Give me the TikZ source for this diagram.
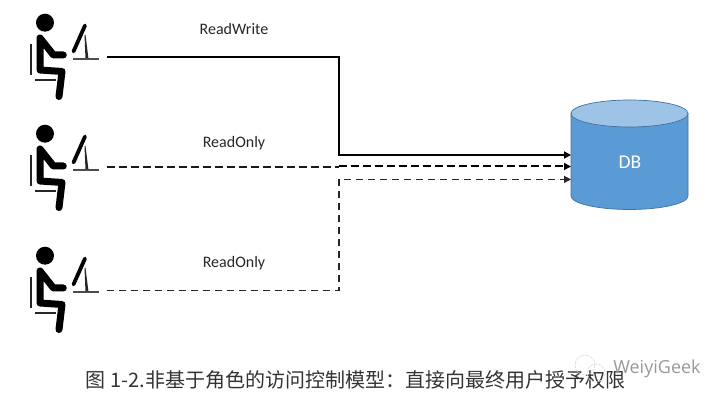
\documentclass[tikz,border=0pt]{standalone}
\usepackage{fontspec}
\setmainfont{Carlito}
\newfontfamily\cjk{Noto Sans CJK SC}
\newfontfamily\wm{Open Sans}
\usetikzlibrary{arrows.meta}
\definecolor{dbside}{HTML}{5B9BD5}
\definecolor{dbtop}{HTML}{9DC3E6}
\definecolor{dbedge}{HTML}{41719C}
\tikzset{
  conn/.style={draw=black,-{Triangle[length=7pt,width=7pt]}},
  label/.style={font=\fontsize{16}{18}\selectfont,text=black!85,inner sep=0pt},
  limb/.style={line width=#1,line cap=round,line join=round,black},
  pics/user/.style={code={
    \fill[black] (45,22.7) circle (9);
    \draw[limb=7pt] (63.3,55) -- (53.5,55) -- (40,38) -- (40,70) -- (62,71.5) -- (59,96.5);
    \draw[limb=1.8pt,line cap=butt,black!85] (30.7,44) -- (30.7,75.5);
    \draw[limb=1.8pt,line cap=butt,black!85] (35,80.3) -- (55.5,80.3);
    \draw[limb=3.8pt] (85,25.5) -- (73.5,51.5);
    \fill[black!85] (84.5,35) -- (85.5,35) -- (88.5,59) -- (85.5,59) -- cycle;
    \draw[limb=1.6pt,line cap=butt,black!70] (72.7,59.3) -- (99.3,59.3);
  }}
}
\begin{document}
\begin{tikzpicture}[x=1pt,y=-1pt]
\useasboundingbox (0,0) rectangle (723,403);
% users
\pic at (0,0) {user};
\pic at (0,111) {user};
\pic at (0,233) {user};
% database
\fill[dbside] (571,113.5) -- (571,196) arc[start angle=180,end angle=360,x radius=58.5,y radius=-13.5] -- (688,113.5) -- cycle;
\draw[dbedge,line width=0.7pt] (571,113.5) -- (571,196) arc[start angle=180,end angle=360,x radius=58.5,y radius=-13.5] -- (688,113.5);
\draw[dbedge,fill=dbtop,line width=0.7pt] (629.5,113.5) ellipse[x radius=58.5,y radius=13.5];
\node[font=\fontsize{19.5}{21}\selectfont,text=white,inner sep=0pt] (db) at (630,162) {DB};
% connector ends
\coordinate (u1) at (107,57);
\coordinate (u2) at (107,167.3);
\coordinate (u3) at (107,290.4);
\coordinate (j1) at (339,155);
\coordinate (j2a) at (339,167.3);
\coordinate (j2b) at (339,166.5);
\coordinate (j3) at (339,179.4);
\coordinate (d1) at (571,155);
\coordinate (d2) at (571,166.5);
\coordinate (d3) at (571,179.4);
\draw[conn,line width=1.7pt] (u1) -| (j1) -- (d1);
\draw[line width=1.8pt,black!90,dash pattern=on 8pt off 4pt] (u2) -- (j2a);
\draw[conn,line width=2pt,dash pattern=on 8pt off 4pt] (j2b) -- (d2);
\draw[conn,line width=1.2pt,black!85,dash pattern=on 7pt off 5pt] (u3) -| (j3) -- (d3);
% labels
\node[label] (l1) at (234,29) {ReadWrite};
\node[label] (l2) at (234,143) {ReadOnly};
\node[label] (l3) at (234,263) {ReadOnly};
% caption
\node[font=\fontsize{20}{24}\cjk,text=black!80,inner sep=0pt] (cap) at (355.5,380) {图 1-2.非基于角色的访问控制模型：直接向最终用户授予权限};
% watermark
\draw[black!15,line width=0.6pt,dash pattern=on 3pt off 1pt] (585,365) circle (10);
\draw[black!15,line width=0.6pt,dash pattern=on 3pt off 1pt] (596,373) circle (9);
\node[font=\fontsize{18}{20}\wm,text=black!40,inner sep=0pt] (wm) at (657,369) {WeiyiGeek};
\end{tikzpicture}
\end{document}
